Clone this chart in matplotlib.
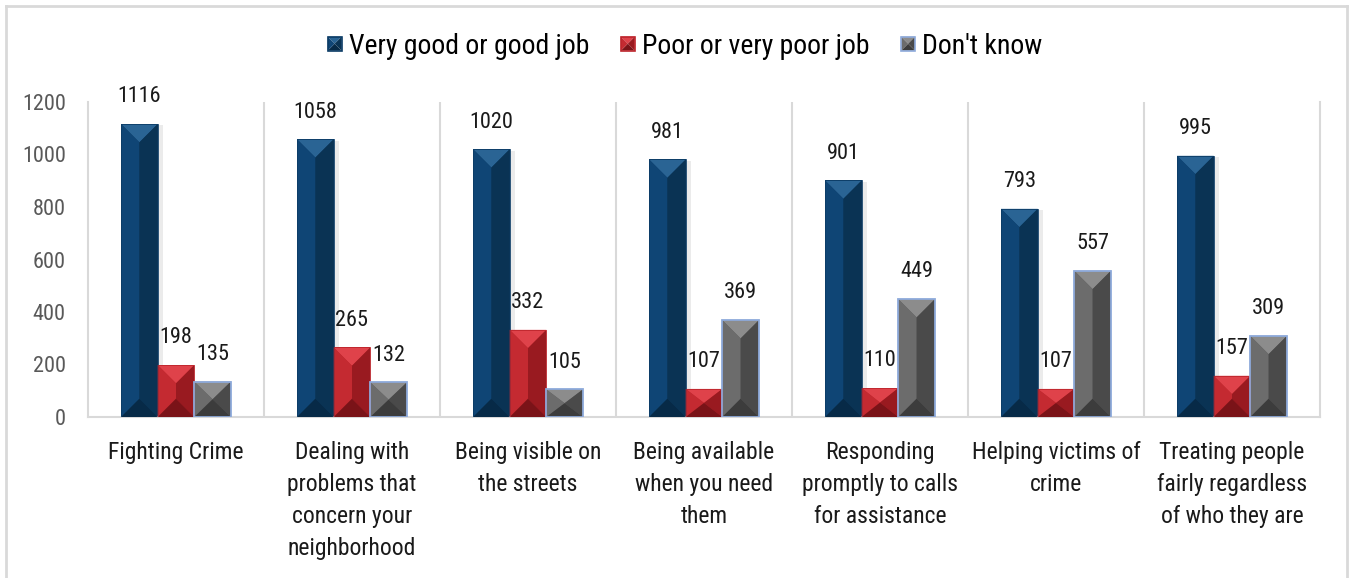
import numpy as np
import matplotlib
import matplotlib.pyplot as plt
from matplotlib.patches import Polygon, Rectangle
from matplotlib.legend_handler import HandlerBase
from matplotlib.lines import Line2D
import matplotlib.patheffects as pe

plt.rcParams['font.family'] = ['Roboto Condensed', 'Noto Sans Condensed', 'Arial Narrow',
                               'Liberation Sans', 'DejaVu Sans']
plt.rcParams['font.stretch'] = 'condensed'

# ---------------- data ----------------
categories = [
    "Fighting Crime",
    "Dealing with\nproblems that\nconcern your\nneighborhood",
    "Being visible on\nthe streets",
    "Being available\nwhen you need\nthem",
    "Responding\npromptly to calls\nfor assistance",
    "Helping victims of\ncrime",
    "Treating people\nfairly regardless\nof who they are",
]
good_job = [1116, 1058, 1020, 981, 901, 793, 995]
poor_job = [198, 265, 332, 107, 110, 107, 157]
dont_know = [135, 132, 105, 369, 449, 557, 309]
series_names = ["Very good or good job", "Poor or very poor job", "Don't know"]
y_ticks = [0, 200, 400, 600, 800, 1000, 1200]

# bevel colours: base, top, left, right, bottom, edge
styles = [
    dict(base="#0c3c66", top="#2a6494", left="#0f4575", right="#0a3354", bottom="#072a47", edge="#0c3c66"),
    dict(base="#bd252c", top="#df424a", left="#c42a31", right="#991a20", bottom="#7a1318", edge="#bd252c"),
    dict(base="#5e5e5e", top="#8c8c8c", left="#6c6c6c", right="#4a4a4a", bottom="#3c3c3c", edge="#8eaadb"),
]


def bevel_polys(x0, w, h, d):
    xc = x0 + w / 2
    x1 = x0 + w
    d = min(d, h / 2)
    top = [(x0, h), (x1, h), (xc, h - d)]
    bottom = [(x0, 0), (x1, 0), (xc, d)]
    left = [(x0, 0), (x0, h), (xc, h - d), (xc, d)]
    right = [(x1, 0), (x1, h), (xc, h - d), (xc, d)]
    return top, left, right, bottom


class BevelHandler(HandlerBase):
    def __init__(self, st):
        super().__init__()
        self.st = st

    def create_artists(self, legend, orig_handle, xdescent, ydescent, width, height, fontsize, trans):
        s = min(width, height)
        x0 = -xdescent + (width - s) / 2
        y0 = -ydescent + (height - s) / 2
        xc, yc = x0 + s / 2, y0 + s / 2
        pts = {
            "top": [(x0, y0 + s), (x0 + s, y0 + s), (xc, yc)],
            "bottom": [(x0, y0), (x0 + s, y0), (xc, yc)],
            "left": [(x0, y0), (x0, y0 + s), (xc, yc)],
            "right": [(x0 + s, y0), (x0 + s, y0 + s), (xc, yc)],
        }
        arts = []
        for k, p in pts.items():
            arts.append(Polygon(p, closed=True, facecolor=self.st[k], edgecolor="none", transform=trans))
        arts.append(Rectangle((x0, y0), s, s, facecolor="none", edgecolor=self.st["edge"], lw=1.2, transform=trans))
        return arts


fig = plt.figure(figsize=(13.51, 5.78), dpi=100)
ax = fig.add_axes([88 / 1351, 1 - 417 / 578, (1320 - 88) / 1351, (417 - 102) / 578])

x = np.arange(len(categories))
bw = 0.208
ax.set_xlim(-0.5, len(categories) - 0.5)
ax.set_ylim(0, 1200)

# pixel -> data conversion for bevel depth (half the bar width in pixels)
ax_h_px = ax.get_window_extent().height
bar_w_px = bw * ax.get_window_extent().width / len(categories)
depth = (bar_w_px / 2) * 1200 / ax_h_px

all_series = [good_job, poor_job, dont_know]
for i, (vals, st) in enumerate(zip(all_series, styles)):
    bars = ax.bar(x + (i - 1) * bw, vals, width=bw, color=st["base"], edgecolor="none", zorder=2)
    if i == 0:
        for b in bars:
            b.set_path_effects([pe.SimplePatchShadow(offset=(4, -1), shadow_rgbFace="#000000", alpha=0.08), pe.Normal()])
    for b, v in zip(bars, vals):
        polys = bevel_polys(b.get_x(), b.get_width(), b.get_height(), depth)
        for p, key in zip(polys, ["top", "left", "right", "bottom"]):
            ax.add_patch(Polygon(p, closed=True, facecolor=st[key], edgecolor="none", zorder=3))
        ax.add_patch(Rectangle((b.get_x(), 0), b.get_width(), b.get_height(), facecolor="none",
                               edgecolor=st["edge"], lw=1.3 if i == 2 else 0.6, zorder=4))
        ax.annotate(str(v), (b.get_x() + b.get_width() / 2, v), xytext=(0, 12), textcoords="offset points",
                    ha="center", va="bottom", fontsize=16, color="#1a1a1a")

# category separators
for s in np.arange(0.5, len(categories) - 1, 1.0):
    ax.axvline(s, color="#d9d9d9", lw=1.5, zorder=1)

for side in ["left", "right", "bottom"]:
    ax.spines[side].set_color("#d9d9d9")
    ax.spines[side].set_linewidth(1.5)
ax.spines["top"].set_visible(False)

ax.set_yticks(y_ticks)
ax.tick_params(axis="y", length=0, pad=16, labelsize=16, labelcolor="#595959")
ax.set_xticks(x)
ax.set_xticklabels(categories, fontsize=17, color="#1a1a1a", linespacing=1.5, va="top")
ax.tick_params(axis="x", length=0, pad=17)

handles = [Rectangle((0, 0), 1, 1) for _ in styles]
leg = fig.legend(handles, series_names, handler_map={h: BevelHandler(st) for h, st in zip(handles, styles)},
                 loc="center", bbox_to_anchor=(685 / 1351, 1 - 46 / 578), ncol=3, frameon=False,
                 fontsize=20, handlelength=0.5, handleheight=0.5, handletextpad=0.25, columnspacing=1.15)

# outer border
fig.add_artist(Line2D([6 / 1351, 6 / 1351], [0, 1 - 6 / 578], color="#d9d9d9", lw=2, transform=fig.transFigure))
fig.add_artist(Line2D([6 / 1351, 1347 / 1351], [1 - 6 / 578, 1 - 6 / 578], color="#d9d9d9", lw=2, transform=fig.transFigure))
fig.add_artist(Line2D([1347 / 1351, 1347 / 1351], [0, 1 - 6 / 578], color="#d9d9d9", lw=2, transform=fig.transFigure))

fig.savefig("out.png", dpi=100)
